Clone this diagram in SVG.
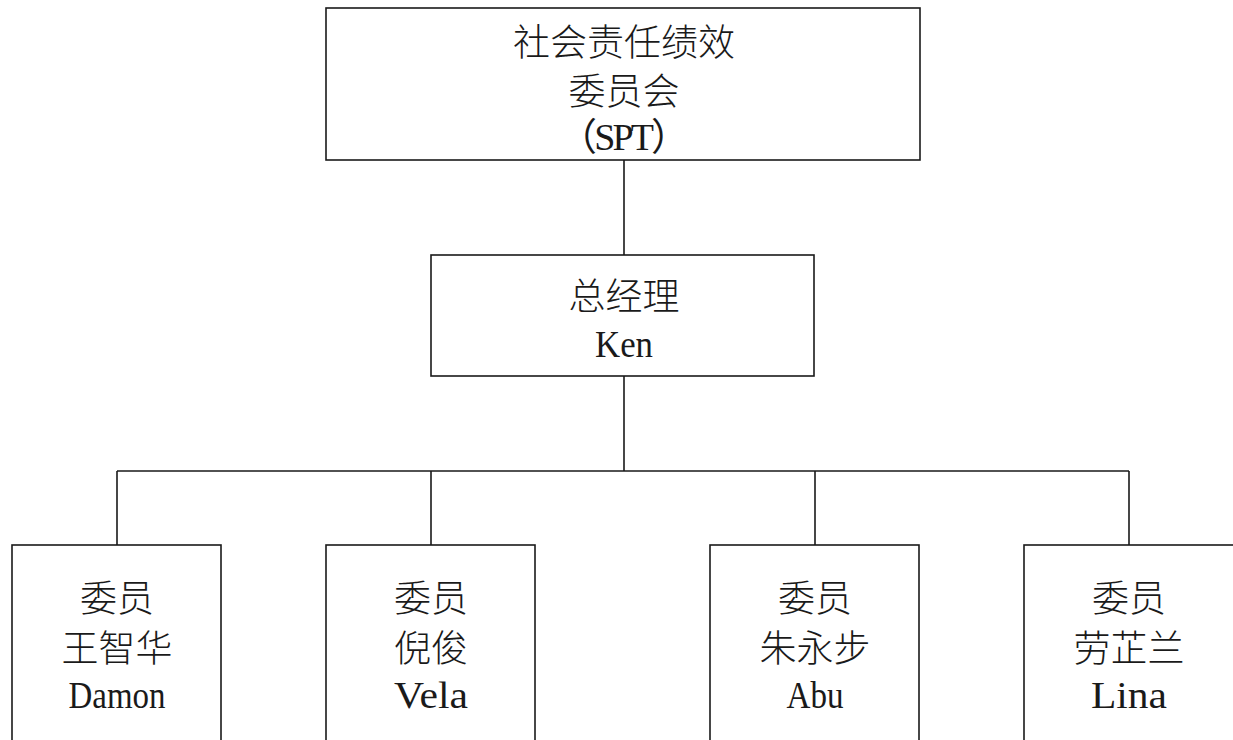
<svg xmlns="http://www.w3.org/2000/svg" width="1233" height="740" viewBox="0 0 1233 740">
<style>
.box{fill:#fff;stroke:#1a1a1a;stroke-width:1.6}
.ln{fill:none;stroke:#1a1a1a;stroke-width:1.6}
.cj{font-family:"Noto Sans CJK SC",sans-serif;font-size:37px;fill:#1a1a1a;text-anchor:middle;font-weight:300}
.la{font-family:"Liberation Serif","Noto Sans CJK SC",serif;font-size:38px;fill:#1a1a1a;text-anchor:middle}
</style>
<rect width="1233" height="740" fill="#fff"/>
<g id="connectors">
<path class="ln" d="M624 160V255M624 376V471M117 471H1129M117 471V545M431 471V545M815 471V545M1129 471V545"/>
</g>
<g id="spt">
<rect class="box" x="326" y="8" width="594" height="152"/>
<text class="cj" x="624" y="56">社会责任绩效</text>
<text class="cj" x="624" y="105">委员会</text>
<text class="la" x="624" y="150" textLength="130" lengthAdjust="spacing">（SPT）</text>
</g>
<g id="gm">
<rect class="box" x="431" y="255" width="383" height="121"/>
<text class="cj" x="624" y="310">总经理</text>
<text class="la" x="624" y="357" textLength="58" lengthAdjust="spacingAndGlyphs">Ken</text>
</g>
<g id="m1">
<rect class="box" x="12" y="545" width="209" height="210"/>
<text class="cj" x="117" y="612">委员</text>
<text class="cj" x="117" y="662">王智华</text>
<text class="la" x="117" y="708" textLength="97" lengthAdjust="spacingAndGlyphs">Damon</text>
</g>
<g id="m2">
<rect class="box" x="326" y="545" width="209" height="210"/>
<text class="cj" x="431" y="612">委员</text>
<text class="cj" x="431" y="662">倪俊</text>
<text class="la" x="431" y="708" textLength="74" lengthAdjust="spacingAndGlyphs">Vela</text>
</g>
<g id="m3">
<rect class="box" x="710" y="545" width="209" height="210"/>
<text class="cj" x="815" y="612">委员</text>
<text class="cj" x="815" y="662">朱永步</text>
<text class="la" x="815" y="708" textLength="57" lengthAdjust="spacingAndGlyphs">Abu</text>
</g>
<g id="m4">
<rect class="box" x="1024" y="545" width="220" height="210"/>
<text class="cj" x="1129" y="612">委员</text>
<text class="cj" x="1129" y="662">劳芷兰</text>
<text class="la" x="1129" y="708" textLength="76" lengthAdjust="spacingAndGlyphs">Lina</text>
</g>
</svg>
